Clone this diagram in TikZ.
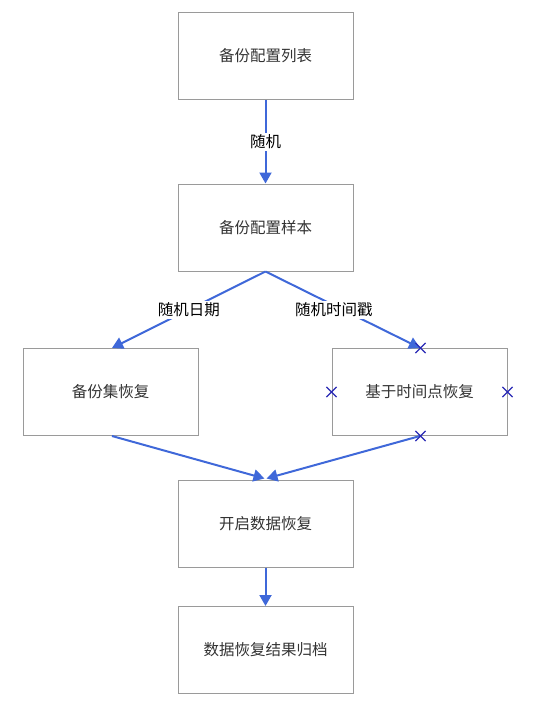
\documentclass[tikz,border=0pt]{standalone}
\usepackage{fontspec}
\setmainfont{Noto Sans CJK SC}
\usepackage{xcolor}
\usetikzlibrary{positioning,arrows.meta,shapes.misc}
\definecolor{linkblue}{HTML}{3F68D9}
\definecolor{markblue}{HTML}{2A2AB5}
\definecolor{boxgray}{HTML}{9A9A9A}
\definecolor{textgray}{HTML}{333333}
\tikzset{
  stepbox/.style={draw=boxgray, line width=1pt, minimum width=175pt, minimum height=87pt,
    inner sep=0pt, text=textgray, font=\fontsize{15.5}{18}\selectfont},
  link/.style={draw=linkblue, line width=2pt, -{Triangle[length=11pt,width=12pt]}},
  linklabel/.style={fill=white, text=black, inner sep=2pt, font=\fontsize{15.5}{18}\selectfont},
  xmark/.style={cross out, draw=markblue, line width=1.2pt, minimum size=9pt, inner sep=0pt}
}
\begin{document}
\begin{tikzpicture}[x=1pt,y=-1pt]
    \useasboundingbox (0,0) rectangle (536,715);
    % Boxes
    \node[stepbox] (list)    at (265.5,56)    {备份配置列表};
    \node[stepbox] (sample)  at (265.5,227.5) {备份配置样本};
    \node[stepbox] (setrec)  at (110.5,392)   {备份集恢复};
    \node[stepbox] (pitrec)  at (419.5,392)   {基于时间点恢复};
    \node[stepbox] (start)   at (265.5,523.5) {开启数据恢复};
    \node[stepbox] (archive) at (265.5,650)   {数据恢复结果归档};

    % Connectors
    \draw[link] (list.south) -- node[linklabel] {随机} (sample.north);
    \draw[link] (sample.south) -- node[linklabel] {随机日期} ([xshift=1.5pt]setrec.north);
    \draw[link] (sample.south) -- node[linklabel, xshift=-9pt] {随机时间戳} ([xshift=0.5pt]pitrec.north);
    \draw[link] ([xshift=1.5pt]setrec.south) -- ([xshift=-1pt,yshift=1pt]start.north);
    \draw[link] ([xshift=0.5pt]pitrec.south) -- ([xshift=1pt,yshift=1pt]start.north);
    \draw[link] (start.south) -- (archive.north);

    % Anchor marks
    \node[xmark] (mtop)   at ([xshift=1pt]pitrec.north) {};
    \node[xmark] (mleft)  at (pitrec.west)  {};
    \node[xmark] (mright) at (pitrec.east)  {};
    \node[xmark] (mbot)   at ([xshift=1pt]pitrec.south) {};
\end{tikzpicture}
\end{document}
